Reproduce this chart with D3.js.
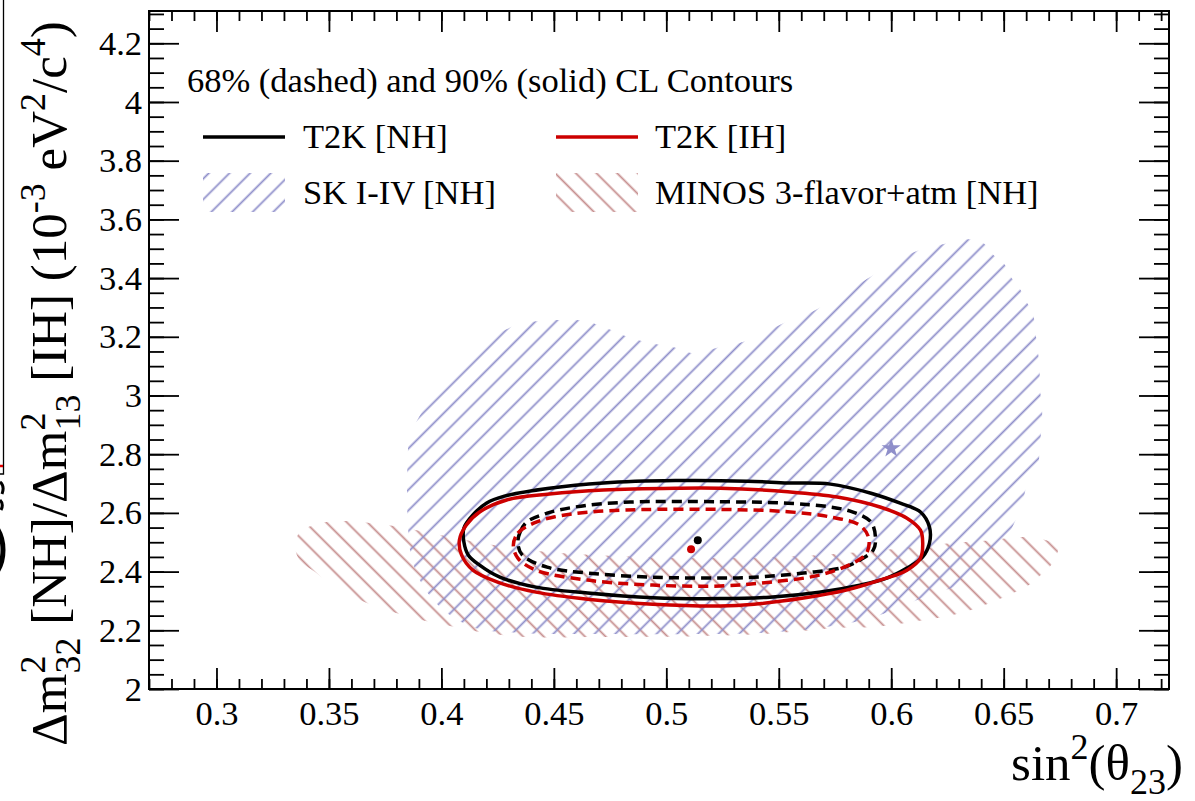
<!DOCTYPE html>
<html>
<head>
<meta charset="utf-8">
<script src="https://cdn.jsdelivr.net/npm/d3@7/dist/d3.min.js"></script>
<style>
  body { margin: 0; background: #fff; }
  svg { display: block; font-family: "Liberation Serif", "Times New Roman", serif; }
</style>
</head>
<body>
<svg id="chart" width="1195" height="801"></svg>
<script>
// T2K 2014 style contour plot, sin^2(theta23) vs dm^2_32
// values

const xTicks = [0.3, 0.35, 0.4, 0.45, 0.5, 0.55, 0.6, 0.65, 0.7];
const yTicks = [2, 2.2, 2.4, 2.6, 2.8, 3, 3.2, 3.4, 3.6, 3.8, 4, 4.2];

// T2K normal hierarchy, 90% CL (solid black)
const t2kNH90 = [
  [0.410, 2.501], [0.410, 2.548], [0.414, 2.593], [0.420, 2.633], [0.428, 2.657],
  [0.448, 2.684], [0.472, 2.702], [0.504, 2.710], [0.536, 2.708], [0.554, 2.702],
  [0.573, 2.698], [0.591, 2.667], [0.604, 2.633], [0.613, 2.603], [0.617, 2.552],
  [0.617, 2.497], [0.614, 2.450], [0.607, 2.412], [0.598, 2.378], [0.586, 2.354],
  [0.568, 2.330], [0.546, 2.313], [0.524, 2.308], [0.494, 2.311], [0.465, 2.327],
  [0.442, 2.347], [0.426, 2.381], [0.417, 2.422], [0.412, 2.456]
];
// T2K inverted hierarchy, 90% CL (solid red)
const t2kIH90 = [
  [0.408, 2.507], [0.411, 2.558], [0.417, 2.603], [0.429, 2.644], [0.448, 2.664],
  [0.472, 2.678], [0.504, 2.684], [0.524, 2.684], [0.554, 2.672], [0.576, 2.654],
  [0.595, 2.620], [0.607, 2.582], [0.613, 2.541], [0.614, 2.497], [0.613, 2.446],
  [0.607, 2.405], [0.595, 2.371], [0.580, 2.337], [0.561, 2.310], [0.539, 2.289],
  [0.524, 2.283], [0.494, 2.289], [0.465, 2.306], [0.442, 2.330], [0.425, 2.364],
  [0.414, 2.405], [0.409, 2.456]
];
// 68% CL (dashed)
const t2kNH68 = [
  [0.434, 2.497], [0.435, 2.535], [0.438, 2.569], [0.447, 2.599], [0.462, 2.623],
  [0.484, 2.637], [0.524, 2.638], [0.554, 2.633], [0.573, 2.620], [0.583, 2.603],
  [0.591, 2.569], [0.593, 2.514], [0.592, 2.473], [0.586, 2.439], [0.579, 2.415],
  [0.561, 2.395], [0.539, 2.381], [0.524, 2.378], [0.494, 2.381], [0.465, 2.395],
  [0.447, 2.415], [0.436, 2.456]
];
const t2kIH68 = [
  [0.432, 2.490], [0.434, 2.531], [0.441, 2.565], [0.450, 2.586], [0.466, 2.603],
  [0.488, 2.611], [0.524, 2.612], [0.554, 2.604], [0.573, 2.586], [0.586, 2.558],
  [0.590, 2.514], [0.589, 2.463], [0.583, 2.429], [0.568, 2.388], [0.546, 2.364],
  [0.524, 2.351], [0.494, 2.354], [0.465, 2.371], [0.442, 2.405], [0.434, 2.446]
];

// SK I-IV 90% region (blue hatch)
const skRegion = [
  [0.398, 3.028], [0.408, 3.103], [0.419, 3.185], [0.436, 3.246], [0.446, 3.255],
  [0.455, 3.257], [0.464, 3.255], [0.471, 3.236], [0.477, 3.219], [0.483, 3.199],
  [0.491, 3.182], [0.498, 3.171], [0.505, 3.161], [0.512, 3.144], [0.524, 3.165],
  [0.535, 3.185], [0.552, 3.246], [0.567, 3.294], [0.589, 3.396], [0.610, 3.488],
  [0.623, 3.515], [0.634, 3.532], [0.641, 3.519], [0.645, 3.481], [0.650, 3.451],
  [0.653, 3.406], [0.657, 3.366], [0.660, 3.321], [0.663, 3.280], [0.664, 3.223],
  [0.665, 3.161], [0.666, 3.097], [0.666, 3.028], [0.667, 2.967], [0.667, 2.906],
  [0.666, 2.828], [0.665, 2.753], [0.661, 2.712], [0.658, 2.627], [0.650, 2.501],
  [0.632, 2.364], [0.617, 2.320], [0.606, 2.286], [0.591, 2.242], [0.568, 2.208],
  [0.542, 2.191], [0.515, 2.187], [0.471, 2.187], [0.435, 2.191], [0.415, 2.208],
  [0.402, 2.262], [0.393, 2.337], [0.387, 2.439], [0.385, 2.576], [0.385, 2.780],
  [0.386, 2.858], [0.393, 2.967]
];

// MINOS 3-flavor+atm region (brown hatch)
const minosRegion = [
  [0.335, 2.484], [0.337, 2.535], [0.343, 2.558], [0.350, 2.570], [0.359, 2.572],
  [0.369, 2.565], [0.379, 2.555], [0.389, 2.541], [0.404, 2.518], [0.426, 2.487],
  [0.453, 2.463], [0.488, 2.450], [0.524, 2.446], [0.560, 2.453], [0.595, 2.473],
  [0.626, 2.497], [0.644, 2.507], [0.659, 2.518], [0.670, 2.504], [0.674, 2.487],
  [0.674, 2.467], [0.671, 2.422], [0.666, 2.385], [0.662, 2.358], [0.650, 2.313],
  [0.638, 2.276], [0.631, 2.259], [0.623, 2.245], [0.609, 2.228], [0.592, 2.211],
  [0.576, 2.208], [0.560, 2.198], [0.542, 2.187], [0.515, 2.180], [0.471, 2.177],
  [0.437, 2.177], [0.417, 2.194], [0.406, 2.211], [0.395, 2.228], [0.383, 2.252],
  [0.369, 2.286], [0.359, 2.320], [0.352, 2.351], [0.344, 2.398], [0.337, 2.439]
];

const bestFitNH = [0.514, 2.507];
const bestFitIH = [0.511, 2.476];
const bestFitSK = [0.600, 2.820];

const legendHeader = "68% (dashed) and 90% (solid) CL Contours";
const legendItems = [
  {label: "T2K [NH]", kind: "line", color: "#000"},
  {label: "T2K [IH]", kind: "line", color: "#cc0000"},
  {label: "SK I-IV [NH]", kind: "hatch", fill: "url(#hatchSK)"},
  {label: "MINOS 3-flavor+atm [NH]", kind: "hatch", fill: "url(#hatchMINOS)"}
];

const blueHatch = "#8f8fca";
const brownHatch = "#c68e8e";
const redLine = "#cc0000";

const svg = d3.select('#chart');

const mLeft = 149, mRight = 1169, mTop = 11, mBottom = 689;

const x = d3.scaleLinear().domain([0.27, 0.7235]).range([mLeft, mRight]);
const y = d3.scaleLinear().domain([2, 4.31]).range([mBottom, mTop]);

const defs = svg.append('defs');

defs.append('clipPath').attr('id', 'plotClip')
  .append('rect')
    .attr('x', mLeft).attr('y', mTop)
    .attr('width', mRight - mLeft).attr('height', mBottom - mTop);

// hatch patterns: rotate(45) gives "/" lines, rotate(-45) gives "\"
const hatch = (id, color, angle) => {
  const p = defs.append('pattern')
    .attr('id', id)
    .attr('patternUnits', 'userSpaceOnUse')
    .attr('width', 14.6)
    .attr('height', 30)
    .attr('patternTransform', `rotate(${angle})`);
  p.append('line')
    .attr('x1', 7.3).attr('y1', -2)
    .attr('x2', 7.3).attr('y2', 32)
    .attr('stroke', color)
    .attr('stroke-width', 1.8);
};
hatch('hatchSK', blueHatch, 45);
hatch('hatchMINOS', brownHatch, -45);

// leftover bits of the neighbouring figure on the left edge
const edge = svg.append('g');
edge.append('path').attr('d', 'M3.5,-2 V474 H-3')
  .attr('fill', 'none').attr('stroke', '#000').attr('stroke-width', 1.3);
edge.append('path').attr('d', 'M-2,466 H3')
  .attr('stroke', '#e00000').attr('stroke-width', 2.5);
edge.append('path').attr('d', 'M0,482 Q5,486 2,494 M0,500 Q4,504 1,510')
  .attr('fill', 'none').attr('stroke', '#000').attr('stroke-width', 3);
edge.append('ellipse').attr('cx', -21).attr('cy', 550).attr('rx', 24).attr('ry', 33)
  .attr('fill', 'none').attr('stroke', '#000').attr('stroke-width', 5);

const plot = svg.append('g').attr('clip-path', 'url(#plotClip)');

const area = d3.line()
  .x(d => x(d[0])).y(d => y(d[1]))
  .curve(d3.curveCatmullRomClosed.alpha(0.5));

plot.append('path').datum(minosRegion)
  .attr('d', area).attr('fill', 'url(#hatchMINOS)').attr('stroke', 'none');
plot.append('path').datum(skRegion)
  .attr('d', area).attr('fill', 'url(#hatchSK)').attr('stroke', 'none');

const contour = d3.line()
  .x(d => x(d[0])).y(d => y(d[1]))
  .curve(d3.curveCatmullRomClosed.alpha(0.5));

const contours = [
  {pts: t2kNH90, color: '#000', dash: null},
  {pts: t2kIH90, color: redLine, dash: null},
  {pts: t2kNH68, color: '#000', dash: '10,6'},
  {pts: t2kIH68, color: redLine, dash: '10,6'}
];

plot.selectAll('path.contour')
  .data(contours)
  .join('path')
    .attr('class', 'contour')
    .attr('d', d => contour(d.pts))
    .attr('fill', 'none')
    .attr('stroke', d => d.color)
    .attr('stroke-width', 3.5)
    .attr('stroke-dasharray', d => d.dash);

plot.append('circle')
  .attr('cx', x(bestFitNH[0])).attr('cy', y(bestFitNH[1])).attr('r', 4)
  .attr('fill', '#000');
plot.append('circle')
  .attr('cx', x(bestFitIH[0])).attr('cy', y(bestFitIH[1])).attr('r', 4)
  .attr('fill', redLine);
plot.append('path')
  .attr('transform', `translate(${x(bestFitSK[0])},${y(bestFitSK[1])})`)
  .attr('d', d3.symbol().type(d3.symbolStar).size(115)())
  .attr('fill', blueHatch);

// axes, ROOT style ticks pointing into the frame
const xMinor = d3.range(27, 73).map(v => v / 100).filter(v => v <= 0.7235);
const yMinor = d3.range(40, 87).map(v => v / 20).filter(v => v <= 4.31);

const styleAxis = g => {
  g.select('.domain').remove();
  g.selectAll('line').attr('stroke', '#000').attr('stroke-width', 1.8);
  g.attr('font-family', null).attr('font-size', null);
};

svg.append('g').attr('transform', `translate(0,${mBottom})`)
  .call(d3.axisBottom(x).tickValues(xMinor).tickSizeInner(-10).tickSizeOuter(0).tickFormat(''))
  .call(styleAxis);
svg.append('g').attr('transform', `translate(0,${mBottom})`)
  .call(d3.axisBottom(x).tickValues(xTicks).tickSizeInner(-21).tickSizeOuter(0).tickPadding(12)
    .tickFormat(d => String(d)))
  .call(styleAxis)
  .selectAll('text').attr('font-size', 34.5).attr('fill', '#000');

svg.append('g').attr('transform', `translate(0,${mTop})`)
  .call(d3.axisTop(x).tickValues(xMinor).tickSizeInner(-10).tickSizeOuter(0).tickFormat(''))
  .call(styleAxis);
svg.append('g').attr('transform', `translate(0,${mTop})`)
  .call(d3.axisTop(x).tickValues(xTicks).tickSizeInner(-21).tickSizeOuter(0).tickFormat(''))
  .call(styleAxis);

svg.append('g').attr('transform', `translate(${mLeft},0)`)
  .call(d3.axisLeft(y).tickValues(yMinor).tickSizeInner(-15).tickSizeOuter(0).tickFormat(''))
  .call(styleAxis);
svg.append('g').attr('transform', `translate(${mLeft},0)`)
  .call(d3.axisLeft(y).tickValues(yTicks).tickSizeInner(-30).tickSizeOuter(0).tickPadding(7)
    .tickFormat(d => String(d)))
  .call(styleAxis)
  .selectAll('text').attr('font-size', 34.5).attr('fill', '#000');

svg.append('g').attr('transform', `translate(${mRight},0)`)
  .call(d3.axisRight(y).tickValues(yMinor).tickSizeInner(-15).tickSizeOuter(0).tickFormat(''))
  .call(styleAxis);
svg.append('g').attr('transform', `translate(${mRight},0)`)
  .call(d3.axisRight(y).tickValues(yTicks).tickSizeInner(-30).tickSizeOuter(0).tickFormat(''))
  .call(styleAxis);

svg.append('rect')
  .attr('x', mLeft).attr('y', mTop)
  .attr('width', mRight - mLeft).attr('height', mBottom - mTop)
  .attr('fill', 'none').attr('stroke', '#000').attr('stroke-width', 2);

// axis titles
const titleSize = 51, smallSize = 36, raise = 21, drop = 14;

const yTitle = svg.append('text')
  .attr('transform', 'translate(66,746) rotate(-90)')
  .attr('font-size', titleSize).attr('fill', '#000');
const supSub = (t, sup, sub) => {
  t.append('tspan').attr('font-size', smallSize).attr('dy', -raise).text(sup);
  t.append('tspan').attr('font-size', smallSize).attr('dx', -smallSize / 2)
    .attr('dy', raise + drop).text(sub);
  return -drop;
};
const sup = (t, s) => {
  t.append('tspan').attr('font-size', smallSize).attr('dy', -raise).text(s);
  return raise;
};
yTitle.append('tspan').text('Δm');
let back = supSub(yTitle, '2', '32');
yTitle.append('tspan').attr('dy', back).text(' [NH]/Δm');
back = supSub(yTitle, '2', '13');
yTitle.append('tspan').attr('dy', back).text(' [IH] (10');
back = sup(yTitle, '-3');
yTitle.append('tspan').attr('dy', back).text(' eV');
back = sup(yTitle, '2');
yTitle.append('tspan').attr('dy', back).text('/c');
back = sup(yTitle, '4');
yTitle.append('tspan').attr('dy', back).text(')');

const xTitle = svg.append('text')
  .attr('x', 1183).attr('y', 780)
  .attr('text-anchor', 'end')
  .attr('font-size', titleSize).attr('fill', '#000');
xTitle.append('tspan').text('sin');
back = sup(xTitle, '2');
xTitle.append('tspan').attr('dy', back).text('(θ');
xTitle.append('tspan').attr('font-size', smallSize).attr('dy', drop).text('23');
xTitle.append('tspan').attr('dy', -drop).text(')');

// legend
const legend = svg.append('g').attr('font-size', 34.5).attr('fill', '#000');
legend.append('text').attr('x', 187).attr('y', 92).text(legendHeader);

const legendPos = [
  {sx: 203, tx: 303, cy: 137},
  {sx: 556, tx: 655, cy: 137},
  {sx: 203, tx: 303, cy: 193},
  {sx: 556, tx: 655, cy: 193}
];

legendItems.forEach((item, i) => {
  const p = legendPos[i];
  if (item.kind === 'line') {
    legend.append('line')
      .attr('x1', p.sx).attr('x2', p.sx + 82)
      .attr('y1', p.cy).attr('y2', p.cy)
      .attr('stroke', item.color).attr('stroke-width', 3.5);
  } else {
    legend.append('rect')
      .attr('x', p.sx).attr('y', p.cy - 20)
      .attr('width', 82).attr('height', 39)
      .attr('fill', item.fill);
  }
  legend.append('text')
    .attr('x', p.tx).attr('y', p.cy + 11)
    .text(item.label);
});
</script>
</body>
</html>
